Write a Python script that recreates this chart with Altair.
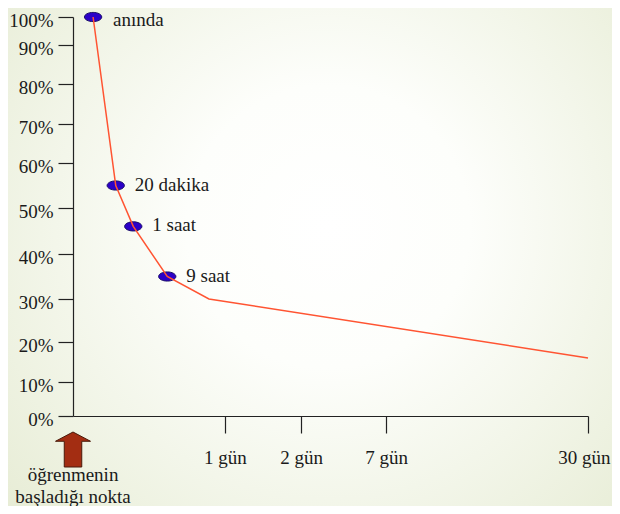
import altair as alt
import pandas as pd

# --- data -------------------------------------------------------------
point_labels = ["anında", "20 dakika", "1 saat", "9 saat", "", ""]
time_pos = [3.9, 8.3, 11.7, 18.3, 26.4, 100]          # position along the (schematic) time axis, 0-100
retention = [100, 55, 46, 35, 30, 16]                  # % remembered
is_marked = [True, True, True, True, False, False]

x_tick_pos = [29.5, 44.3, 60.8, 100]
x_tick_labels = ["1 gün", "2 gün", "7 gün", "30 gün"]
y_ticks = [0, 10, 20, 30, 40, 50, 60, 70, 80, 90, 100]

start_note = ["öğrenmenin", "başladığı nokta"]

df = pd.DataFrame({"pos": time_pos, "retention": retention,
                   "label": point_labels, "marked": is_marked})

W, H = 515, 399
FONT = "'Liberation Serif', 'Times New Roman', 'DejaVu Serif', serif"
FS = 19
TXT = "#1a1a1a"

x_expr = " : ".join(f"datum.value == {p} ? '{l}'" for p, l in zip(x_tick_pos, x_tick_labels)) + " : ''"

x_scale = alt.Scale(domain=[0, 100], nice=False, zero=False)
# the reference's vertical axis is slightly uneven: piecewise-linear scale
y_scale = alt.Scale(domain=y_ticks,
                    range=[399, 365, 325, 282, 237, 191, 146, 107, 67, 28, 0],
                    nice=False, zero=False)

x_axis = alt.Axis(values=x_tick_pos, labelExpr=x_expr, title=None, grid=False,
                  tickSize=17, tickColor="#222", domainColor="#222", domainWidth=1.2,
                  tickWidth=1.2, labelPadding=15, labelFont=FONT, labelFontSize=FS,
                  labelColor=TXT, labelFlush=True, labelFlushOffset=22,
                  labelOverlap=False, zindex=1)
y_axis = alt.Axis(values=y_ticks, labelExpr="datum.value + '%'", title=None, grid=False,
                  tickSize=15, tickColor="#222", domainColor="#222", domainWidth=1.2,
                  tickWidth=1.2, labelPadding=5, labelFont=FONT, labelFontSize=FS,
                  labelColor=TXT, labelFlush=False, labelOverlap=False, labelOffset=3,
                  zindex=1)

X = alt.X("pos:Q", scale=x_scale, axis=x_axis)
Y = alt.Y("retention:Q", scale=y_scale, axis=y_axis)

base = alt.Chart(df)
one = pd.DataFrame({"pos": [0]})

background = alt.Chart(one).mark_rect(
    fill={"gradient": "radial",
          "stops": [{"offset": 0, "color": "#ffffff"},
                    {"offset": 0.3, "color": "#fdfefb"},
                    {"offset": 1, "color": "#e4ead0"}],
          "x1": 0.53, "y1": 0.45, "r1": 0,
          "x2": 0.53, "y2": 0.45, "r2": 0.78}
).encode(x=alt.value(-65), x2=alt.value(W + 24), y=alt.value(-9), y2=alt.value(H + 90))

ellipse = "M-1,0 A1,0.53 0 1,0 1,0 A1,0.53 0 1,0 -1,0 Z"
points = base.transform_filter("datum.marked").mark_point(
    shape=ellipse, size=300, filled=True, fill="#2b00c8", stroke="#1b1066",
    strokeWidth=1, opacity=1
).encode(x=X, y=Y)

line = base.mark_line(color="#ff5432", strokeWidth=1.5).encode(x=X, y=Y)

labels_top = base.transform_filter("datum.marked && datum.retention >= 100").mark_text(
    align="left", baseline="middle", dx=20, dy=3, font=FONT, fontSize=FS, color=TXT
).encode(x=X, y=Y, text="label:N")
labels = base.transform_filter("datum.marked && datum.retention < 100").mark_text(
    align="left", baseline="middle", dx=19, dy=-1, font=FONT, fontSize=FS, color=TXT
).encode(x=X, y=Y, text="label:N")

arrow_path = "M0,-1 L1,-0.47 L0.5,-0.47 L0.5,1 L-0.5,1 L-0.5,-0.47 L-1,-0.47 Z"
arrow = alt.Chart(one).mark_point(
    shape=arrow_path, size=1225, filled=True, fill="#a32d12", stroke="#4a1a0a",
    strokeWidth=1, opacity=1
).encode(x=X, y=alt.value(432.5))

note = alt.Chart(one).mark_text(
    text=start_note, lineHeight=22, align="center", baseline="middle",
    font=FONT, fontSize=FS, color=TXT
).encode(x=X, y=alt.value(458))

chart = alt.layer(background, points, line, labels_top, labels, arrow, note).properties(
    width=W, height=H,
    padding={"left": 65, "top": 9, "right": 24, "bottom": 90},
    autosize=alt.AutoSizeParams(type="none"),
    background="#e9eed7",
).configure_view(stroke=None)

chart.save("out.html", embed_options={"renderer": "svg", "actions": False})
